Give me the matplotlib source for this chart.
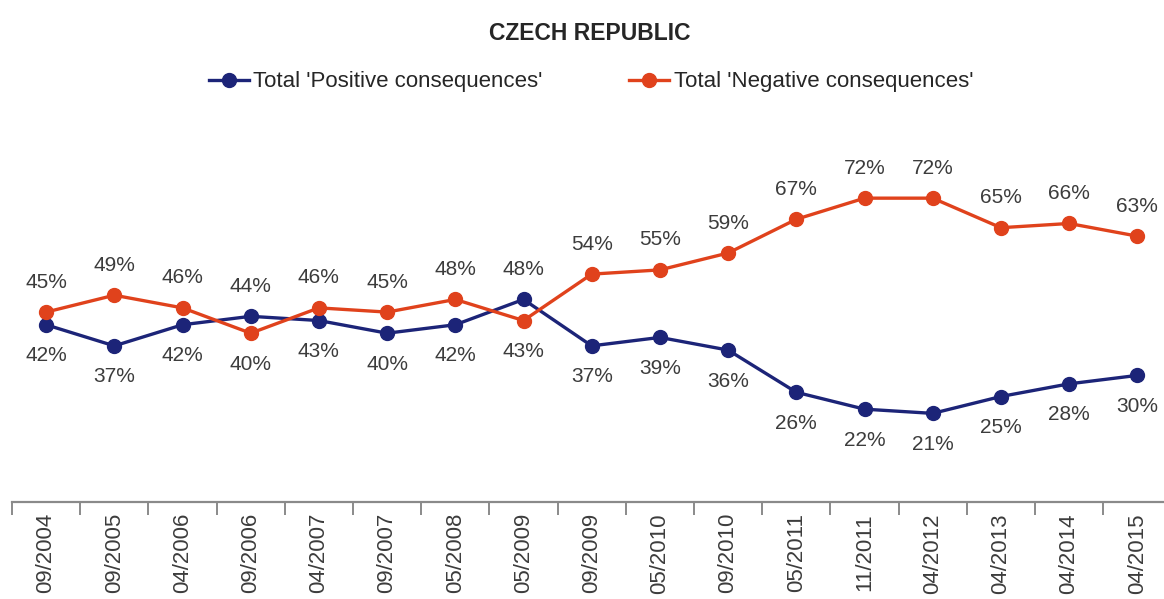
import matplotlib.pyplot as plt
from matplotlib.ticker import FixedLocator

# survey waves and shares (%)
waves = ['09/2004', '09/2005', '04/2006', '09/2006', '04/2007', '09/2007', '05/2008', '05/2009',
         '09/2009', '05/2010', '09/2010', '05/2011', '11/2011', '04/2012', '04/2013', '04/2014', '04/2015']
positive = [42, 37, 42, 44, 43, 40, 42, 48, 37, 39, 36, 26, 22, 21, 25, 28, 30]
negative = [45, 49, 46, 40, 46, 45, 48, 43, 54, 55, 59, 67, 72, 72, 65, 66, 63]

blue = '#1c2478'
red = '#e0421c'
font = ['Liberation Sans', 'DejaVu Sans']
W, H = 1164, 599

fig = plt.figure(figsize=(W / 100, H / 100), dpi=100)
ax = fig.add_axes([12 / W, 97 / H, 17 * 68.2 / W, 80 * 4.22 / H])

x = list(range(len(waves)))
ax.plot(x, positive, color=blue, lw=2.4, marker='o', ms=10, label="Total 'Positive consequences'",
        clip_on=False, zorder=3)
ax.plot(x, negative, color=red, lw=2.4, marker='o', ms=10, label="Total 'Negative consequences'",
        clip_on=False, zorder=3)

# labels: higher value above, lower below
for i in x:
    for v, other in ((positive[i], negative[i]), (negative[i], positive[i])):
        off = 30 if v > other else -31
        ax.annotate(f'{v}%', (i, v), xytext=(0, off), textcoords='offset pixels',
                    ha='center', va='center', fontsize=15, color='#3c3c3c', family=font)

ax.set_xlim(-0.5, len(waves) - 0.5)
ax.set_ylim(0, 80)
for s in ['left', 'right', 'top']:
    ax.spines[s].set_visible(False)
ax.spines['bottom'].set_color('#8a8a8a')
ax.spines['bottom'].set_linewidth(1.6)
ax.set_yticks([])

ax.set_xticks(x)
ax.set_xticklabels(waves, rotation=90, fontsize=16, color='#3c3c3c', family=font, va='top')
ax.tick_params(axis='x', which='major', length=0, pad=8)
ax.xaxis.set_minor_locator(FixedLocator([i - 0.5 for i in range(len(waves) + 1)]))
ax.tick_params(axis='x', which='minor', length=9, width=1.4, color='#8a8a8a')

fig.text(590 / W, 1 - 34 / H, 'CZECH REPUBLIC', ha='center', va='center', fontsize=16.5,
         fontweight='bold', color='#262626', family=font)
fig.legend(loc='center', bbox_to_anchor=(591 / W, 1 - 82 / H), ncol=2, frameon=False,
           prop={'family': font, 'size': 16}, handlelength=1.8, handletextpad=0.2,
           columnspacing=3.9, labelcolor='#262626')

fig.savefig('out.png', dpi=100)
